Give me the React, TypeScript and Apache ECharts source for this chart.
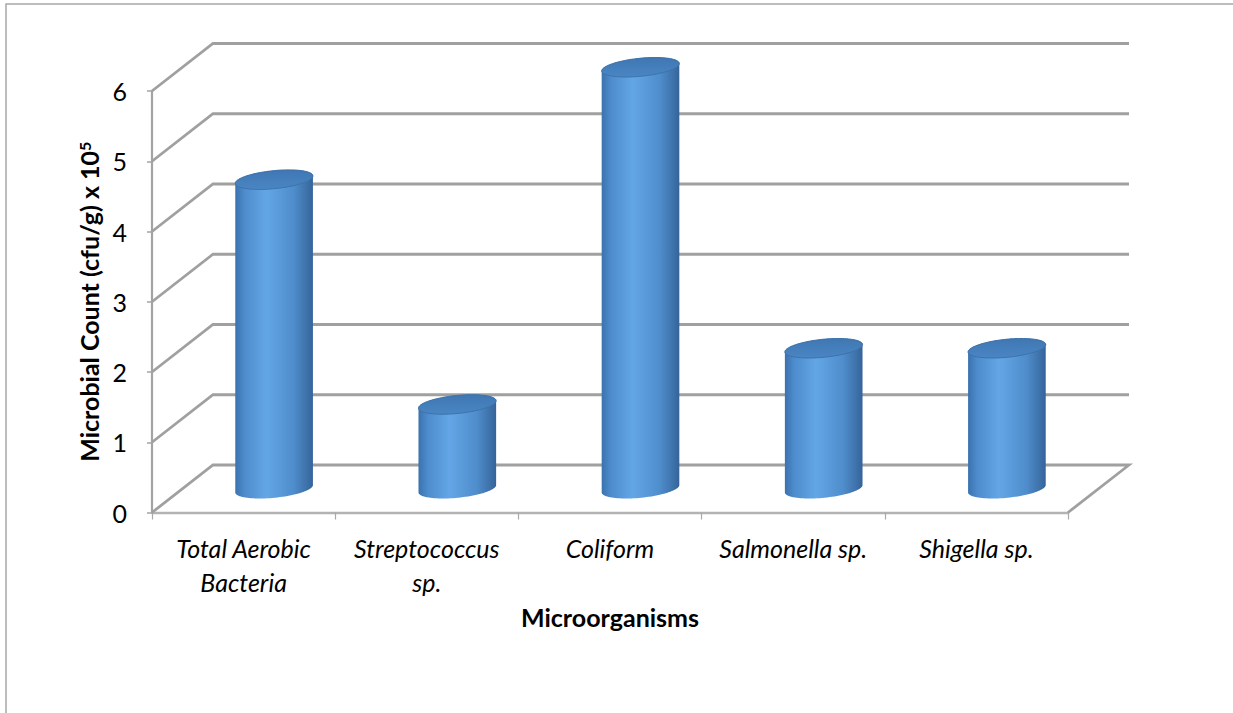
import React, { useEffect, useRef } from "react";
import * as echarts from "echarts";

// Microbial load per organism group (x 10^5 cfu/g)
const categories = [
  "Total Aerobic\nBacteria",
  "Streptococcus\nsp.",
  "Coliform",
  "Salmonella sp.",
  "Shigella sp.",
];
const counts = [4.4, 1.2, 6.0, 2.0, 2.0];
const yTicks = [0, 1, 2, 3, 4, 5, 6];

// Depth offset of the back wall (pseudo-3D look)
const DX = 61;
const DY = -47.5;
const TILT = -0.1;
const FONT = "Lato, 'Open Sans', sans-serif";

function ellipsePt(cx: number, cy: number, rx: number, ry: number, t: number) {
  const c = Math.cos(TILT);
  const s = Math.sin(TILT);
  return [
    cx + rx * Math.cos(t) * c - ry * Math.sin(t) * s,
    cy + rx * Math.cos(t) * s + ry * Math.sin(t) * c,
  ];
}

export default function App() {
  const ref = useRef<HTMLDivElement>(null);

  useEffect(() => {
    if (!ref.current) return;
    const chart = echarts.init(ref.current, null, { renderer: "svg" });

    const gridRender = (params: any, api: any) => {
      const cs = params.coordSys;
      const v = api.value(1);
      const p = api.coord([0, v]);
      const x0 = cs.x;
      const y = p[1];
      let points;
      if (v === 0) {
        points = [
          [x0, y],
          [x0 + DX, y + DY],
          [x0 + cs.width + DX, y + DY],
          [x0 + cs.width, y],
        ];
      } else {
        points = [
          [x0, y],
          [x0 + DX, y + DY],
          [x0 + cs.width + DX, y + DY],
        ];
      }
      return {
        type: "polyline",
        shape: { points },
        style: { stroke: "#a0a0a0", lineWidth: 2.8, fill: "none" },
        silent: true,
      };
    };

    const cylRender = (params: any, api: any) => {
      const i = api.value(0);
      const v = api.value(1);
      const base = api.coord([i, 0]);
      const top = api.coord([i, v]);
      const cx = base[0] + DX / 2;
      const by = base[1] + DY / 2;
      const ty = top[1] + DY / 2;
      const rx = api.size([1, 0])[0] * 0.213;
      const ry = 9;
      const N = 48;
      const body: number[][] = [];
      for (let k = 0; k <= N; k++) {
        const t = Math.PI - (Math.PI * k) / N;
        body.push(ellipsePt(cx, by, rx, ry, t));
      }
      for (let k = 0; k <= N; k++) {
        const t = -(Math.PI * k) / N;
        body.push(ellipsePt(cx, ty, rx, ry, t));
      }
      const cap: number[][] = [];
      for (let k = 0; k < 2 * N; k++) {
        cap.push(ellipsePt(cx, ty, rx, ry, (Math.PI * k) / N));
      }
      return {
        type: "group",
        children: [
          {
            type: "polygon",
            shape: { points: body },
            style: {
              fill: new echarts.graphic.LinearGradient(0, 0, 1, 0, [
                { offset: 0, color: "#3b72ae" },
                { offset: 0.12, color: "#4d8ccd" },
                { offset: 0.4, color: "#63a6e6" },
                { offset: 0.75, color: "#4f8dcc" },
                { offset: 0.93, color: "#3d70a8" },
                { offset: 1, color: "#35639a" },
              ]),
              stroke: "none",
            },
          },
          {
            type: "polygon",
            shape: { points: cap },
            style: {
              fill: new echarts.graphic.LinearGradient(0, 0, 0, 1, [
                { offset: 0, color: "#3f77b2" },
                { offset: 1, color: "#4a86c4" },
              ]),
              stroke: "#3d72aa",
              lineWidth: 1,
            },
          },
        ],
        silent: true,
      };
    };

    chart.setOption({
      animation: false,
      backgroundColor: "#ffffff",
      graphic: [
        {
          type: "rect",
          shape: { x: 6, y: 4, width: 1500, height: 1000 },
          style: { fill: "none", stroke: "#a8a8a8", lineWidth: 1.5 },
          silent: true,
          z: -10,
        },
      ],
      grid: { left: 152, top: 91, right: 165, bottom: 200.5, containLabel: false },
      xAxis: {
        type: "category",
        data: categories,
        boundaryGap: true,
        name: "Microorganisms",
        nameLocation: "middle",
        nameGap: 92,
        nameTextStyle: {
          fontFamily: FONT,
          fontWeight: "bold",
          fontSize: 25,
          color: "#000",
        },
        axisLine: { show: true, lineStyle: { color: "#b3b3b3", width: 2.4 } },
        axisTick: {
          show: true,
          alignWithLabel: false,
          length: 7,
          lineStyle: { color: "#a8a8a8", width: 1.2 },
        },
        axisLabel: {
          interval: 0,
          margin: 18,
          fontFamily: FONT,
          fontStyle: "italic",
          fontSize: 25,
          lineHeight: 34,
          color: "#000",
        },
        splitLine: { show: false },
      },
      yAxis: {
        type: "value",
        min: 0,
        max: 6,
        interval: 1,
        name: "{a|Microbial Count (cfu/g) x 10}{s|5}",
        nameLocation: "middle",
        nameGap: 47,
        nameTextStyle: {
          rich: {
            a: { fontFamily: FONT, fontWeight: "bold", fontSize: 25, color: "#000" },
            s: {
              fontFamily: FONT,
              fontWeight: "bold",
              fontSize: 16,
              color: "#000",
              verticalAlign: "top",
            },
          },
        },
        axisLine: { show: true, lineStyle: { color: "#a3a3a3", width: 2.2 } },
        axisTick: {
          show: true,
          inside: false,
          length: 5,
          lineStyle: { color: "#a3a3a3", width: 1.5 },
        },
        axisLabel: {
          margin: 25,
          fontFamily: FONT,
          fontSize: 25,
          color: "#000",
        },
        splitLine: { show: false },
      },
      series: [
        {
          type: "custom",
          renderItem: gridRender,
          data: yTicks.map((v) => [0, v]),
          clip: false,
          silent: true,
          z: 1,
        },
        {
          type: "custom",
          renderItem: cylRender,
          data: counts.map((v, i) => [i, v]),
          clip: false,
          silent: true,
          z: 2,
        },
      ],
    });

    return () => chart.dispose();
  }, []);

  return (
    <div
      ref={ref}
      style={{ position: "fixed", left: 0, top: 0, width: 1233, height: 713 }}
    />
  );
}
